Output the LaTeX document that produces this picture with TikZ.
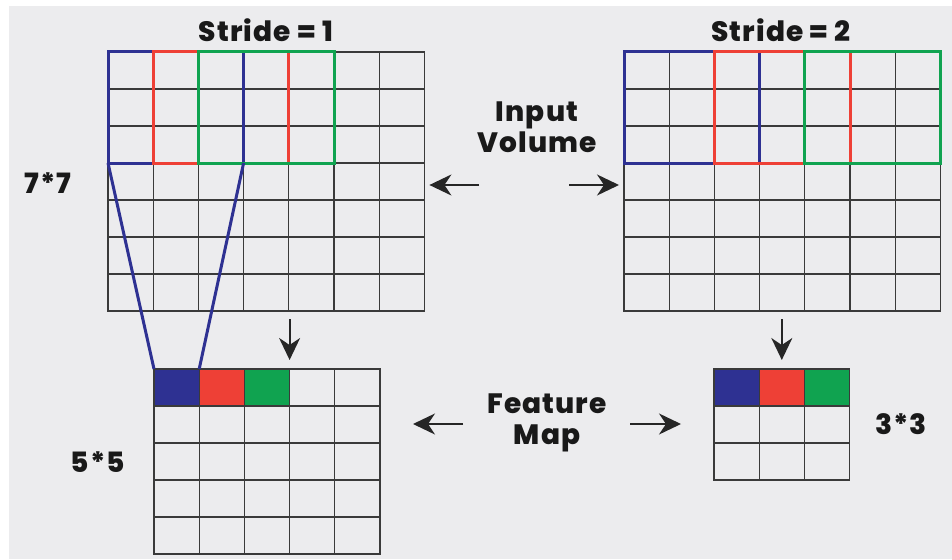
\documentclass[tikz,border=0pt]{standalone}
\usepackage{fontspec}
\setmainfont{Poppins}[BoldFont={Poppins ExtraBold},BoldFeatures={LetterSpace=4}]
\usetikzlibrary{arrows.meta,positioning}

\definecolor{kblue}{HTML}{2E3192}
\definecolor{kred}{HTML}{EE4036}
\definecolor{kgreen}{HTML}{10A350}
\definecolor{paper}{HTML}{ECECEE}
\definecolor{gridgray}{HTML}{3A3A3A}

% cell size of every grid
\newcommand{\cw}{45.2}
\newcommand{\ch}{37}

% inner lines of a grid node: #1 = node, #2 = columns, #3 = rows
\newcommand{\cells}[3]{%
  \foreach \i in {1,...,\numexpr#2-1\relax}
    \draw[gridline] ([xshift=\i*\cw pt]#1.north west) -- ([xshift=\i*\cw pt]#1.south west);
  \foreach \j in {1,...,\numexpr#3-1\relax}
    \draw[gridline] ([yshift=-\j*\ch pt]#1.north west) -- ([yshift=-\j*\ch pt]#1.north east);
}

\tikzset{
  gridline/.style={draw=gridgray,line width=1.1pt},
  gridbox/.style={gridline,rectangle,inner sep=0pt,outer sep=0pt,anchor=north west},
  window/.style={line width=3pt},
  cell/.style={draw=gridgray,line width=1.3pt,rectangle,inner sep=0pt,outer sep=0pt,
    minimum width=\cw pt,minimum height=\ch pt,anchor=north west},
  label/.style={font=\bfseries\fontsize{28}{31}\selectfont,align=center,text=black!90},
  flow/.style={-{Stealth[length=22pt,width=21pt,inset=7pt]},line width=1.8pt,black!85},
}

\begin{document}
\begin{tikzpicture}[x=1pt,y=-1pt]
  \useasboundingbox (0,0) rectangle (952,559);
  \fill[white] (0,0) rectangle (952,559);
  \fill[paper] (9,6) rectangle (952,559);

  % input volumes and feature maps
  \node[gridbox,minimum width=7*\cw pt,minimum height=7*\ch pt] (in1) at (108,52) {};
  \node[gridbox,minimum width=7*\cw pt,minimum height=7*\ch pt] (in2) at (624,52) {};
  \node[gridbox,minimum width=5*\cw pt,minimum height=5*\ch pt] (out1) at (154,369) {};
  \node[gridbox,minimum width=3*\cw pt,minimum height=3*\ch pt] (out2) at (714,369) {};
  \cells{in1}{7}{7}
  \cells{in2}{7}{7}
  \cells{out1}{5}{5}
  \cells{out2}{3}{3}

  % 3x3 windows, stride 1
  \draw[window,kblue]  (in1.north west) rectangle ++(3*\cw,3*\ch);
  \draw[window,kred]   ([xshift=\cw pt]in1.north west) rectangle ++(3*\cw,3*\ch);
  \draw[window,kgreen] ([xshift=2*\cw pt]in1.north west) rectangle ++(3*\cw,3*\ch);

  % 3x3 windows, stride 2
  \draw[window,kblue]  (in2.north west) rectangle ++(3*\cw,3*\ch);
  \draw[window,kred]   ([xshift=2*\cw pt]in2.north west) rectangle ++(3*\cw,3*\ch);
  \draw[window,kgreen] ([xshift=4*\cw pt]in2.north west) rectangle ++(3*\cw,3*\ch);

  % first output row
  \node[cell,fill=kblue]  (b1) at (out1.north west) {};
  \node[cell,fill=kred]   (r1) [right=0pt of b1] {};
  \node[cell,fill=kgreen] (g1) [right=0pt of r1] {};
  \node[cell,fill=kblue]  (b2) at (out2.north west) {};
  \node[cell,fill=kred]   (r2) [right=0pt of b2] {};
  \node[cell,fill=kgreen] (g2) [right=0pt of r2] {};

  % blue window folded onto its output cell
  \coordinate (wl) at ([yshift=-3*\ch pt]in1.north west);
  \coordinate (wr) at ([xshift=3*\cw pt,yshift=-3*\ch pt]in1.north west);
  \draw[window,kblue] (wl) -- (b1.north west);
  \draw[window,kblue] (wr) -- (b1.north east);

  % labels
  \node[label] (s1) at (266,30) {Stride = 1};
  \node[label] (s2) at (781,30) {Stride = 2};
  \node[label] (iv) at (537,127) {Input\\Volume};
  \node[label] (fm) at (547,423) {Feature\\Map};
  \node[label] (n7) at (48,183) {7*7};
  \node[label] (n5) at (98,462) {5*5};
  \node[label] (n3) at (901,424) {3*3};

  % arrows
  \coordinate (ivl) at (479,185);
  \coordinate (ivr) at (569,185);
  \coordinate (fml) at (463,424);
  \coordinate (fmr) at (630,424);
  \draw[flow] (ivl) -- (in1.east |- ivl) [shorten >=5pt];
  \draw[flow] (ivr) -- (in2.west |- ivr) [shorten >=5pt];
  \draw[flow] (fml) -- (out1.east |- fml) [shorten >=33pt];
  \draw[flow] (fmr) -- (out2.west |- fmr) [shorten >=33pt];
  \draw[flow] ([yshift=-8pt]in1.south -| g1.east) -- (g1.north east) [shorten >=9pt];
  \draw[flow] ([yshift=-8pt]in2.south -| r2) -- (r2.north) [shorten >=9pt];
\end{tikzpicture}
\end{document}
